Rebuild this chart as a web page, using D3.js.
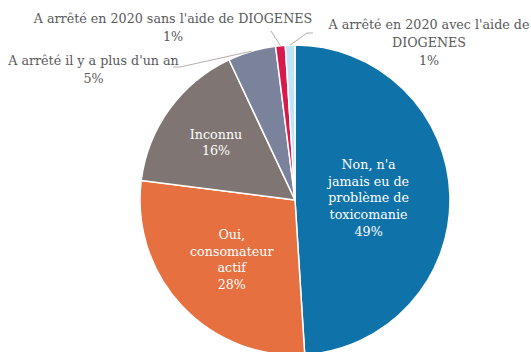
<!DOCTYPE html>
<html>
<head>
<meta charset="utf-8">
<script src="https://cdn.jsdelivr.net/npm/d3@7"></script>
<style>
  html, body { margin: 0; padding: 0; background: #fff; }
  svg { display: block; }
  text { font-family: "DejaVu Serif", "Liberation Serif", serif; }
</style>
</head>
<body>
<svg id="chart" width="531" height="352"></svg>
<script>
// Slices, in drawing order (clockwise from 12 o'clock)
const categories = [
  "Non, n'a jamais eu de problème de toxicomanie",
  "Oui, consomateur actif",
  "Inconnu",
  "A arrêté il y a plus d'un an",
  "A arrêté en 2020 sans l'aide de DIOGENES",
  "A arrêté en 2020 avec l'aide de DIOGENES"
];
const values = [49, 28, 16, 5, 1, 1];
const labelLines = [
  ["Non, n'a", "jamais eu de", "problème de", "toxicomanie"],
  ["Oui,", "consomateur", "actif"],
  ["Inconnu"],
  ["A arrêté il y a plus d'un an"],
  ["A arrêté en 2020 sans l'aide de DIOGENES"],
  ["A arrêté en 2020 avec l'aide de", "DIOGENES"]
];
const colors = ["#0f72a9", "#e6703f", "#7f7572", "#7b839c", "#d71a4b", "#c0e4f6"];

// Layout
const W = 531, H = 352;
const cx = 295, cy = 200, R = 155;
const fontSize = 12.7;
const lineH = 16.7;
const outerLineH = 18;
// inside labels: distance of the text block centre from the pie centre (fraction of R)
const insideFactor = [0.475, 0.56, 0.63];
// outside labels: text anchor point (centre x, first baseline) and leader polyline start
const outsideLabels = {
  3: { x: 93.5, y: 65, leader: [[173, 67], [180, 67]] },
  4: { x: 173, y: 22.5, leader: [[271, 31]] },
  5: { x: 429, y: 29, leader: [[313, 33], [307, 33]] }
};

const svg = d3.select("#chart");
const g = svg.append("g").attr("transform", `translate(${cx},${cy})`);

const pie = d3.pie().sort(null).value(d => d)(values);
const arc = d3.arc().innerRadius(0).outerRadius(R);

g.selectAll("path.slice")
  .data(pie)
  .join("path")
  .attr("class", "slice")
  .attr("d", arc)
  .attr("fill", (d, i) => colors[i])
  .attr("stroke", "#ffffff")
  .attr("stroke-width", 1.5)
  .attr("stroke-linejoin", "round");

const pct = v => Math.round(v) + "%";
const mid = d => (d.startAngle + d.endAngle) / 2;
const polar = (a, r) => [r * Math.sin(a), -r * Math.cos(a)];

// Labels inside the three large slices
pie.forEach((d, i) => {
  if (i >= insideFactor.length) return;
  const [x, y] = polar(mid(d), insideFactor[i] * R);
  const lines = labelLines[i].concat([pct(d.data)]);
  const y0 = y - (lines.length - 1) * lineH / 2 + 4.5;
  const t = g.append("text")
    .attr("text-anchor", "middle")
    .attr("fill", "#ffffff")
    .attr("font-size", fontSize);
  lines.forEach((s, k) => {
    t.append("tspan").attr("x", x).attr("y", y0 + k * lineH).text(s);
  });
});

// Labels outside the small slices, with leader lines
Object.keys(outsideLabels).forEach(key => {
  const i = +key;
  const d = pie[i];
  const L = outsideLabels[i];
  const [ex, ey] = polar(mid(d), R);
  const pts = L.leader.map(p => [p[0], p[1]]).concat([[ex + cx, ey + cy]]);
  svg.append("path")
    .attr("d", d3.line()(pts))
    .attr("fill", "none")
    .attr("stroke", "#b3adab")
    .attr("stroke-width", 1);
  const lines = labelLines[i].concat([pct(d.data)]);
  const t = svg.append("text")
    .attr("text-anchor", "middle")
    .attr("fill", "#595959")
    .attr("font-size", fontSize);
  lines.forEach((s, k) => {
    t.append("tspan").attr("x", L.x).attr("y", L.y + k * outerLineH).text(s);
  });
});
</script>
</body>
</html>
